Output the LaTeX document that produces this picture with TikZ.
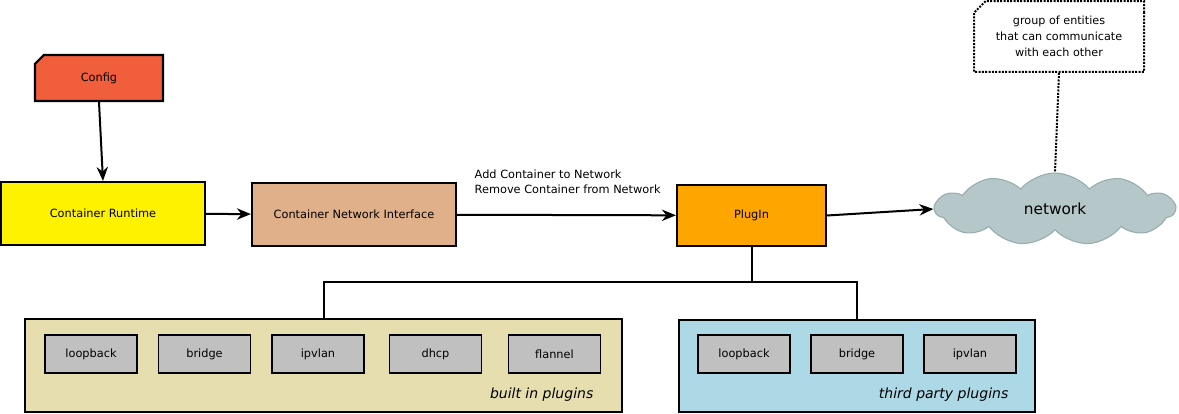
\documentclass[tikz,border=0pt]{standalone}
\usepackage{fontspec}
\setmainfont{DejaVu Sans}
\usetikzlibrary{arrows.meta, shapes.misc, shapes.symbols, calc}

\definecolor{cfgred}{RGB}{240,94,60}
\definecolor{cniskin}{RGB}{224,176,139}
\definecolor{plugorange}{RGB}{255,165,0}
\definecolor{cloudgray}{RGB}{181,199,201}
\definecolor{cloudedge}{RGB}{150,172,174}
\definecolor{builtinfill}{RGB}{230,222,174}
\definecolor{thirdfill}{RGB}{173,216,230}
\definecolor{plugingray}{RGB}{192,192,192}

\begin{document}
\begin{tikzpicture}[x=0.75pt, y=-0.75pt,
        every node/.style={font=\fontsize{8.5}{11}\selectfont},
        box/.style={draw, line width=1.6pt, inner sep=0pt, minimum width=153pt, minimum height=47.25pt},
        small/.style={draw, line width=1.4pt, fill=plugingray, inner sep=0pt, minimum width=69pt, minimum height=28.5pt},
        group/.style={draw, line width=1.6pt, inner sep=0pt},
        tag/.style={font=\fontsize{10.5}{12}\selectfont\itshape, anchor=south east},
        arr/.style={-{Stealth[length=10.5pt, width=8.5pt]}, line width=1.5pt},
        link/.style={line width=1.5pt}]
        \useasboundingbox (0,0) rectangle (1179,414);

        % top row
        \node[box, fill=cfgred, chamfered rectangle, chamfered rectangle corners=north west,
              chamfered rectangle xsep=3pt, minimum width=96pt, minimum height=34.5pt] (config) at (99,78) {Config};
        \node[box, fill=yellow] (runtime) at (103,213.5) {Container Runtime};
        \node[box, fill=cniskin] (cni) at (354,214.5) {Container Network Interface};
        \node[box, fill=plugorange, minimum width=111.75pt, minimum height=45.75pt] (plugin) at (751.5,215.5) {PlugIn};
        \node[cloud, cloud puffs=11, cloud puff arc=100, aspect=3.4, draw=cloudedge, line width=0.8pt, fill=cloudgray,
              minimum width=180pt, minimum height=54pt, inner sep=0pt,
              font=\fontsize{11.5}{13}\selectfont] (cloud) at (1055,209) {network};
        \node[draw, densely dotted, line width=1.5pt, chamfered rectangle, chamfered rectangle corners=north west,
              chamfered rectangle xsep=5pt, minimum width=127.5pt, minimum height=53pt, inner sep=0pt,
              align=center, font=\fontsize{8.4}{12}\selectfont] (note) at (1059,36.5)
              {group of entities\\that can communicate\\with each other};
        \node[anchor=west, align=left] (ops) at (470,182) {Add Container to Network\\Remove Container from Network};

        \draw[arr] (config.south) -- (runtime.north);
        \draw[arr] (runtime) -- (cni);
        \draw[arr] (cni) -- (plugin);
        \draw[arr] (plugin.east) -- (cloud.west);
        \draw[densely dotted, line width=1.5pt] (note.south) -- (cloud.north);

        % plugin groups
        \node[group, fill=builtinfill, minimum width=447.75pt, minimum height=69.75pt] (builtin) at (323.5,365.5) {};
        \node[group, fill=thirdfill, minimum width=267pt, minimum height=69pt] (third) at (857,366) {};

        \node[small] (bloop) at (91,354) {loopback};
        \node[small] (bbridge) at (204.5,354) {bridge};
        \node[small] (bipvlan) at (318,354) {ipvlan};
        \node[small] (bdhcp) at (435.5,354) {dhcp};
        \node[small] (bflannel) at (554.5,354) {flannel};
        \node[tag] (btag) at (598,406) {built in plugins};

        \node[small] (tloop) at (744,354) {loopback};
        \node[small] (tbridge) at (857,354) {bridge};
        \node[small] (tipvlan) at (970,354) {ipvlan};
        \node[tag] (ttag) at (1013,406) {third party plugins};

        \coordinate (split) at ($(plugin.south)+(0,35)$);
        \draw[link] (plugin.south) -- (split) -| (builtin.north);
        \draw[link] (split) -| (third.north);

    \end{tikzpicture}
\end{document}
